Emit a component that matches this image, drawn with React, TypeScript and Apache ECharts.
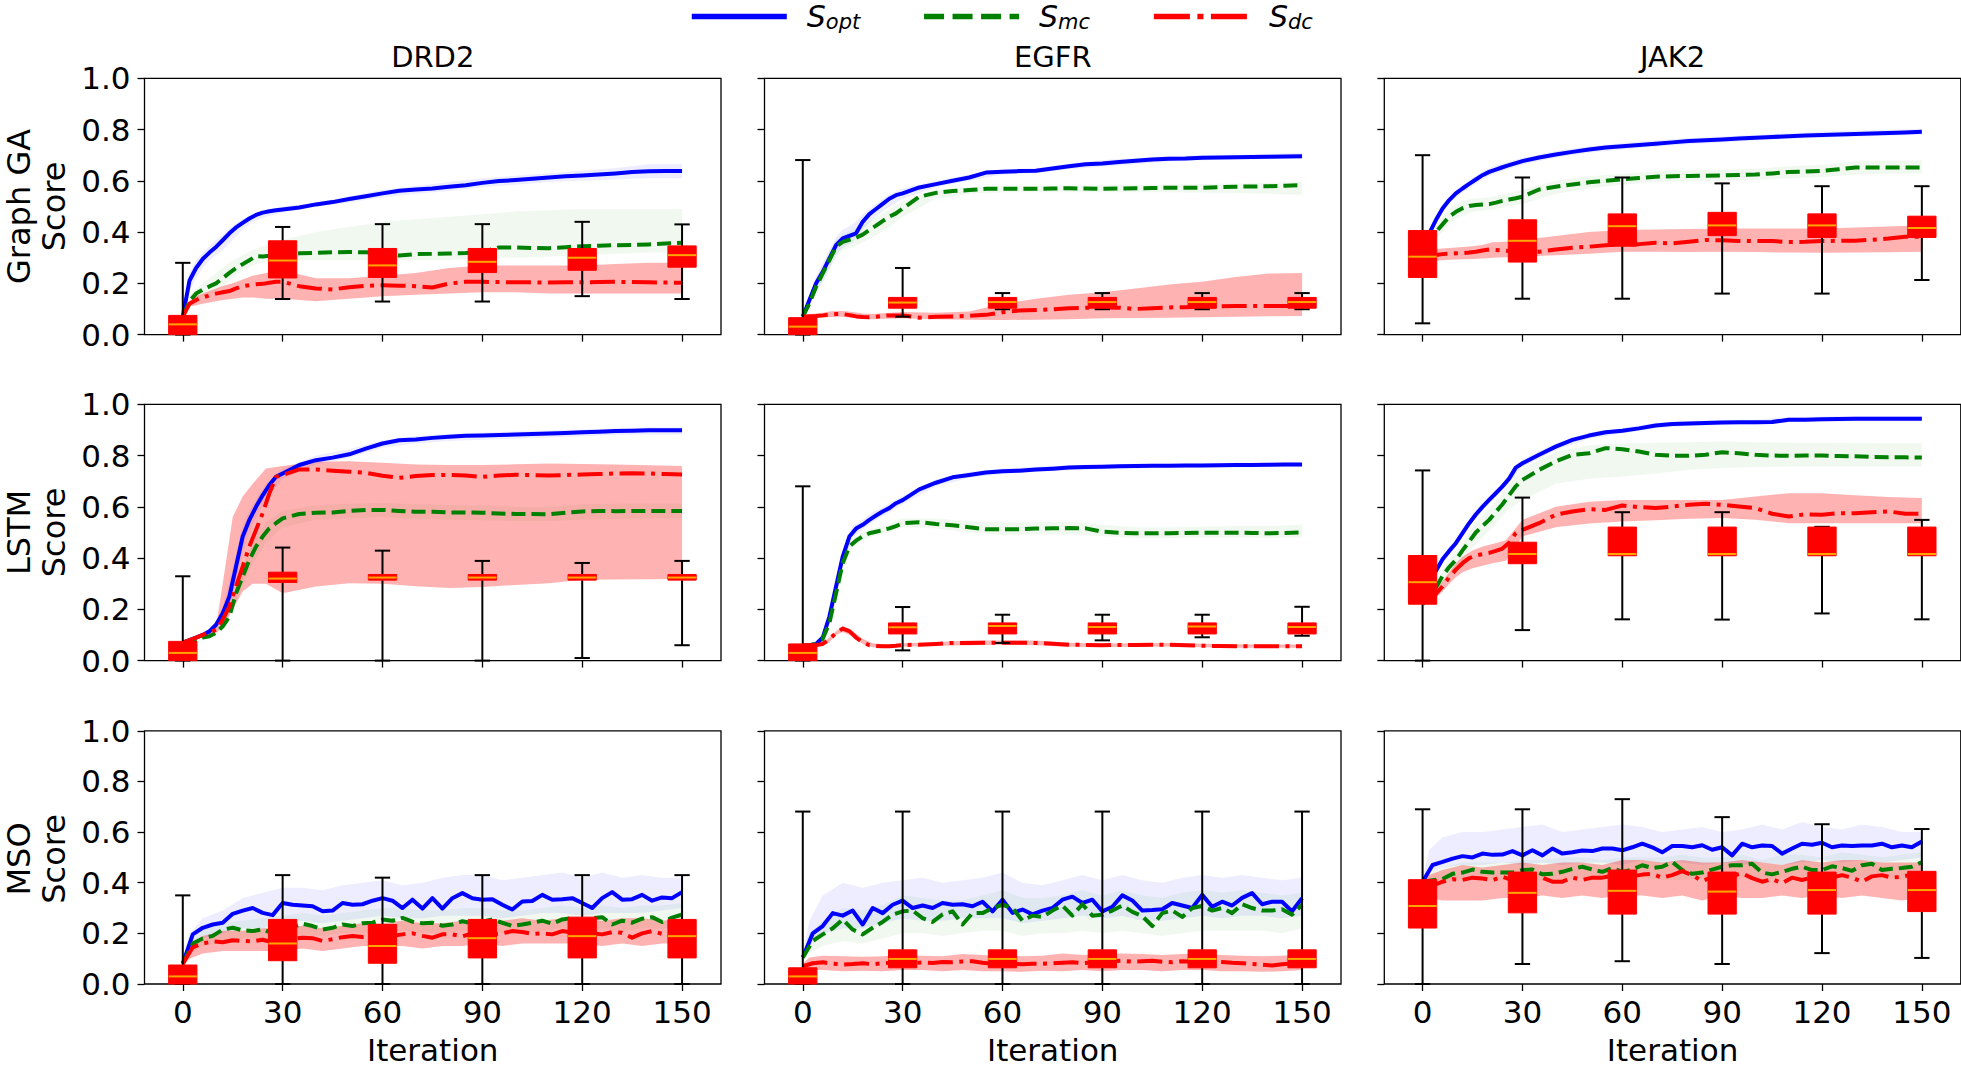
import React, { useEffect, useRef } from "react";
import * as echarts from "echarts";

const FONT = "DejaVu Sans";

// ---- x grids ----
const XS = [0, 2, 4, 6, 8, 10, 12, 14, 16, 18, 20, 22, 24, 26, 28, 30, 35, 40, 45, 50, 55, 60, 65, 70, 75, 80, 85, 90, 95, 100, 105, 110, 115, 120, 125, 130, 135, 140, 145, 150];
const XB = [0, 2, 4, 6, 8, 10, 12, 15, 18, 21, 25, 30, 40, 50, 60, 70, 80, 90, 100, 110, 120, 130, 140, 150];
const XM = [0, 3, 6, 9, 12, 15, 18, 21, 24, 27, 30, 33, 36, 39, 42, 45, 48, 51, 54, 57, 60, 63, 66, 69, 72, 75, 78, 81, 84, 87, 90, 93, 96, 99, 102, 105, 108, 111, 114, 117, 120, 123, 126, 129, 132, 135, 138, 141, 144, 147, 150];
const XBM = [0, 2, 6, 12, 18, 24, 30, 36, 42, 48, 54, 60, 66, 72, 78, 84, 90, 96, 102, 108, 114, 120, 126, 132, 138, 144, 150];
const BOX_X = [0, 30, 60, 90, 120, 150];
const X_TICKS = [0, 30, 60, 90, 120, 150];

const ROW_NAMES = ["Graph GA\nScore", "LSTM\nScore", "MSO\nScore"];
const COL_NAMES = ["DRD2", "EGFR", "JAK2"];
const SERIES_NAMES = ["S_opt", "S_mc", "S_dc"];
const SUBS: Record<string, string> = { S_opt: "opt", S_mc: "mc", S_dc: "dc" };

// ---- Graph GA / DRD2 ----
const GA_DRD2_OPT = [0.07, 0.21, 0.26, 0.295, 0.32, 0.342, 0.368, 0.395, 0.418, 0.436, 0.453, 0.467, 0.476, 0.481, 0.485, 0.488, 0.496, 0.508, 0.517, 0.529, 0.54, 0.551, 0.561, 0.566, 0.57, 0.577, 0.583, 0.592, 0.599, 0.603, 0.608, 0.613, 0.618, 0.621, 0.625, 0.629, 0.634, 0.637, 0.638, 0.638];
const GA_DRD2_MC = [0.07, 0.13, 0.16, 0.175, 0.188, 0.2, 0.22, 0.241, 0.259, 0.275, 0.29, 0.306, 0.305, 0.308, 0.312, 0.314, 0.317, 0.319, 0.321, 0.322, 0.321, 0.319, 0.309, 0.314, 0.315, 0.316, 0.318, 0.323, 0.34, 0.34, 0.338, 0.337, 0.341, 0.345, 0.347, 0.349, 0.35, 0.352, 0.355, 0.358];
const GA_DRD2_DC = [0.07, 0.12, 0.135, 0.145, 0.153, 0.16, 0.165, 0.17, 0.18, 0.189, 0.193, 0.196, 0.198, 0.202, 0.206, 0.206, 0.189, 0.18, 0.176, 0.185, 0.19, 0.193, 0.191, 0.189, 0.184, 0.199, 0.206, 0.206, 0.205, 0.204, 0.204, 0.203, 0.204, 0.204, 0.205, 0.206, 0.205, 0.204, 0.203, 0.202];
const GA_DRD2_OPT_LO = [0.06, 0.17, 0.22, 0.26, 0.29, 0.31, 0.33, 0.37, 0.41, 0.44, 0.46, 0.475, 0.5, 0.515, 0.535, 0.55, 0.56, 0.575, 0.585, 0.595, 0.6, 0.605, 0.61, 0.61];
const GA_DRD2_OPT_HI = [0.08, 0.24, 0.29, 0.32, 0.345, 0.37, 0.39, 0.425, 0.45, 0.47, 0.485, 0.5, 0.515, 0.54, 0.565, 0.58, 0.595, 0.61, 0.62, 0.63, 0.64, 0.65, 0.665, 0.665];
const GA_DRD2_MC_LO = [0.065, 0.12, 0.14, 0.15, 0.16, 0.17, 0.19, 0.22, 0.25, 0.27, 0.285, 0.29, 0.29, 0.29, 0.29, 0.29, 0.29, 0.3, 0.3, 0.305, 0.31, 0.315, 0.32, 0.32];
const GA_DRD2_MC_HI = [0.075, 0.15, 0.18, 0.2, 0.22, 0.24, 0.26, 0.29, 0.31, 0.33, 0.35, 0.37, 0.4, 0.42, 0.44, 0.45, 0.46, 0.47, 0.48, 0.485, 0.49, 0.49, 0.49, 0.49];
const GA_DRD2_DC_LO = [0.065, 0.11, 0.115, 0.12, 0.125, 0.13, 0.135, 0.14, 0.145, 0.145, 0.14, 0.14, 0.13, 0.14, 0.15, 0.155, 0.16, 0.165, 0.165, 0.16, 0.16, 0.16, 0.16, 0.16];
const GA_DRD2_DC_HI = [0.075, 0.13, 0.15, 0.16, 0.17, 0.18, 0.19, 0.2, 0.215, 0.23, 0.24, 0.25, 0.22, 0.22, 0.23, 0.24, 0.26, 0.27, 0.27, 0.27, 0.27, 0.275, 0.28, 0.28];
const GA_DRD2_BOX = [[0, 0, 0.04, 0.075, 0.28], [0.139, 0.221, 0.289, 0.366, 0.42], [0.129, 0.223, 0.27, 0.336, 0.431], [0.129, 0.242, 0.284, 0.336, 0.431], [0.15, 0.251, 0.3, 0.336, 0.44], [0.139, 0.263, 0.31, 0.346, 0.43]];

// ---- Graph GA / EGFR ----
const GA_EGFR_OPT = [0.07, 0.135, 0.2, 0.245, 0.297, 0.349, 0.375, 0.385, 0.395, 0.44, 0.47, 0.49, 0.51, 0.53, 0.544, 0.551, 0.574, 0.587, 0.6, 0.613, 0.632, 0.635, 0.638, 0.639, 0.648, 0.657, 0.665, 0.668, 0.673, 0.678, 0.683, 0.686, 0.687, 0.69, 0.691, 0.692, 0.693, 0.694, 0.695, 0.696];
const GA_EGFR_MC = [0.07, 0.122, 0.187, 0.239, 0.291, 0.343, 0.362, 0.37, 0.378, 0.39, 0.408, 0.425, 0.443, 0.46, 0.473, 0.492, 0.538, 0.553, 0.56, 0.564, 0.569, 0.569, 0.569, 0.569, 0.57, 0.571, 0.57, 0.569, 0.57, 0.571, 0.572, 0.573, 0.573, 0.573, 0.575, 0.577, 0.578, 0.579, 0.581, 0.583];
const GA_EGFR_DC = [0.07, 0.072, 0.073, 0.075, 0.078, 0.08, 0.08, 0.076, 0.071, 0.069, 0.068, 0.07, 0.073, 0.075, 0.075, 0.075, 0.066, 0.07, 0.071, 0.073, 0.077, 0.087, 0.094, 0.096, 0.099, 0.103, 0.105, 0.106, 0.105, 0.1, 0.103, 0.106, 0.107, 0.109, 0.11, 0.112, 0.112, 0.112, 0.112, 0.112];
const GA_EGFR_OPT_LO = [0.065, 0.12, 0.17, 0.21, 0.26, 0.31, 0.34, 0.36, 0.41, 0.45, 0.49, 0.53, 0.575, 0.6, 0.625, 0.63, 0.645, 0.655, 0.665, 0.675, 0.68, 0.682, 0.684, 0.686];
const GA_EGFR_OPT_HI = [0.075, 0.15, 0.23, 0.28, 0.33, 0.38, 0.41, 0.43, 0.47, 0.5, 0.54, 0.57, 0.6, 0.625, 0.645, 0.65, 0.668, 0.68, 0.69, 0.697, 0.7, 0.702, 0.705, 0.71];
const GA_EGFR_MC_LO = [0.065, 0.11, 0.16, 0.2, 0.25, 0.3, 0.33, 0.34, 0.36, 0.38, 0.41, 0.46, 0.53, 0.55, 0.555, 0.555, 0.555, 0.555, 0.555, 0.555, 0.553, 0.552, 0.55, 0.545];
const GA_EGFR_MC_HI = [0.075, 0.135, 0.21, 0.27, 0.32, 0.37, 0.39, 0.41, 0.43, 0.45, 0.48, 0.52, 0.565, 0.575, 0.58, 0.58, 0.582, 0.583, 0.585, 0.586, 0.588, 0.59, 0.592, 0.595];
const GA_EGFR_DC_LO = [0.065, 0.065, 0.065, 0.066, 0.068, 0.07, 0.07, 0.066, 0.062, 0.06, 0.062, 0.064, 0.06, 0.058, 0.057, 0.058, 0.06, 0.064, 0.065, 0.066, 0.068, 0.07, 0.072, 0.073];
const GA_EGFR_DC_HI = [0.075, 0.08, 0.082, 0.085, 0.09, 0.092, 0.092, 0.088, 0.082, 0.08, 0.084, 0.088, 0.085, 0.09, 0.12, 0.14, 0.155, 0.165, 0.18, 0.195, 0.206, 0.225, 0.238, 0.24];
const GA_EGFR_BOX = [[0, 0, 0.031, 0.066, 0.681], [0.07, 0.103, 0.125, 0.145, 0.26], [0.099, 0.103, 0.127, 0.145, 0.162], [0.099, 0.103, 0.127, 0.145, 0.162], [0.099, 0.103, 0.127, 0.145, 0.162], [0.099, 0.103, 0.127, 0.145, 0.162]];

// ---- Graph GA / JAK2 ----
const GA_JAK2_OPT = [0.349, 0.395, 0.447, 0.492, 0.525, 0.551, 0.57, 0.588, 0.605, 0.622, 0.635, 0.644, 0.653, 0.661, 0.669, 0.677, 0.691, 0.703, 0.713, 0.722, 0.73, 0.735, 0.74, 0.745, 0.75, 0.755, 0.758, 0.761, 0.765, 0.768, 0.771, 0.774, 0.777, 0.779, 0.781, 0.783, 0.785, 0.787, 0.789, 0.791];
const GA_JAK2_MC = [0.36, 0.375, 0.4, 0.43, 0.46, 0.479, 0.493, 0.502, 0.506, 0.508, 0.509, 0.515, 0.522, 0.527, 0.532, 0.538, 0.566, 0.577, 0.586, 0.594, 0.6, 0.606, 0.611, 0.616, 0.618, 0.619, 0.62, 0.621, 0.623, 0.625, 0.629, 0.634, 0.636, 0.639, 0.645, 0.652, 0.652, 0.652, 0.652, 0.652];
const GA_JAK2_DC = [0.304, 0.308, 0.311, 0.314, 0.316, 0.317, 0.318, 0.32, 0.323, 0.328, 0.332, 0.33, 0.328, 0.326, 0.323, 0.321, 0.323, 0.332, 0.339, 0.343, 0.349, 0.352, 0.353, 0.358, 0.356, 0.362, 0.369, 0.368, 0.365, 0.365, 0.365, 0.361, 0.362, 0.365, 0.366, 0.366, 0.37, 0.375, 0.382, 0.382];
const GA_JAK2_OPT_LO = [0.335, 0.38, 0.43, 0.475, 0.51, 0.535, 0.555, 0.58, 0.605, 0.625, 0.643, 0.663, 0.69, 0.71, 0.722, 0.733, 0.743, 0.75, 0.757, 0.763, 0.768, 0.772, 0.776, 0.78];
const GA_JAK2_OPT_HI = [0.36, 0.41, 0.46, 0.505, 0.54, 0.565, 0.585, 0.61, 0.637, 0.655, 0.672, 0.69, 0.716, 0.735, 0.748, 0.758, 0.767, 0.773, 0.78, 0.786, 0.791, 0.795, 0.799, 0.803];
const GA_JAK2_MC_LO = [0.345, 0.355, 0.375, 0.4, 0.43, 0.45, 0.465, 0.478, 0.483, 0.487, 0.5, 0.51, 0.55, 0.57, 0.585, 0.595, 0.598, 0.6, 0.603, 0.61, 0.615, 0.625, 0.628, 0.63];
const GA_JAK2_MC_HI = [0.375, 0.395, 0.425, 0.46, 0.49, 0.51, 0.52, 0.53, 0.533, 0.538, 0.55, 0.565, 0.6, 0.618, 0.627, 0.637, 0.64, 0.643, 0.647, 0.657, 0.662, 0.675, 0.678, 0.68];
const GA_JAK2_DC_LO = [0.28, 0.285, 0.288, 0.29, 0.292, 0.293, 0.294, 0.295, 0.297, 0.3, 0.302, 0.304, 0.31, 0.315, 0.323, 0.323, 0.322, 0.323, 0.322, 0.32, 0.319, 0.32, 0.321, 0.323];
const GA_JAK2_DC_HI = [0.33, 0.332, 0.334, 0.336, 0.338, 0.34, 0.342, 0.345, 0.35, 0.36, 0.362, 0.369, 0.385, 0.4, 0.408, 0.41, 0.412, 0.414, 0.414, 0.414, 0.414, 0.418, 0.422, 0.427];
const GA_JAK2_BOX = [[0.044, 0.223, 0.304, 0.406, 0.7], [0.14, 0.283, 0.366, 0.448, 0.613], [0.14, 0.345, 0.423, 0.471, 0.613], [0.16, 0.386, 0.426, 0.477, 0.59], [0.16, 0.379, 0.426, 0.471, 0.579], [0.213, 0.379, 0.416, 0.462, 0.579]];

// ---- LSTM / DRD2 ----
const LSTM_DRD2_OPT = [0.07, 0.08, 0.09, 0.1, 0.114, 0.14, 0.185, 0.25, 0.367, 0.484, 0.549, 0.6, 0.645, 0.685, 0.717, 0.73, 0.763, 0.782, 0.792, 0.805, 0.827, 0.847, 0.86, 0.863, 0.869, 0.873, 0.877, 0.878, 0.88, 0.882, 0.884, 0.886, 0.888, 0.891, 0.893, 0.896, 0.897, 0.899, 0.899, 0.899];
const LSTM_DRD2_MC = [0.07, 0.075, 0.08, 0.09, 0.095, 0.108, 0.134, 0.172, 0.263, 0.328, 0.393, 0.445, 0.484, 0.516, 0.536, 0.555, 0.572, 0.577, 0.578, 0.584, 0.588, 0.588, 0.584, 0.581, 0.581, 0.578, 0.578, 0.577, 0.574, 0.572, 0.572, 0.571, 0.577, 0.582, 0.584, 0.583, 0.584, 0.584, 0.584, 0.584];
const LSTM_DRD2_DC = [0.07, 0.08, 0.09, 0.1, 0.11, 0.12, 0.16, 0.211, 0.289, 0.367, 0.445, 0.51, 0.575, 0.652, 0.717, 0.724, 0.746, 0.746, 0.741, 0.737, 0.733, 0.721, 0.713, 0.72, 0.724, 0.724, 0.722, 0.717, 0.722, 0.725, 0.724, 0.722, 0.724, 0.726, 0.728, 0.73, 0.731, 0.73, 0.728, 0.726];
const LSTM_DRD2_OPT_LO = [0.065, 0.075, 0.085, 0.095, 0.105, 0.125, 0.16, 0.25, 0.42, 0.53, 0.63, 0.71, 0.765, 0.79, 0.83, 0.848, 0.857, 0.862, 0.866, 0.87, 0.875, 0.88, 0.882, 0.882];
const LSTM_DRD2_OPT_HI = [0.075, 0.085, 0.095, 0.105, 0.122, 0.155, 0.21, 0.36, 0.53, 0.61, 0.69, 0.75, 0.8, 0.825, 0.86, 0.876, 0.885, 0.89, 0.894, 0.898, 0.903, 0.907, 0.91, 0.91];
const LSTM_DRD2_MC_LO = [0.065, 0.07, 0.075, 0.085, 0.09, 0.1, 0.12, 0.19, 0.29, 0.38, 0.46, 0.52, 0.55, 0.555, 0.56, 0.553, 0.55, 0.548, 0.545, 0.545, 0.55, 0.552, 0.554, 0.555];
const LSTM_DRD2_MC_HI = [0.075, 0.08, 0.085, 0.095, 0.1, 0.116, 0.15, 0.25, 0.365, 0.46, 0.54, 0.585, 0.605, 0.612, 0.615, 0.61, 0.607, 0.605, 0.6, 0.6, 0.61, 0.612, 0.613, 0.613];
const LSTM_DRD2_DC_LO = [0.065, 0.075, 0.085, 0.095, 0.1, 0.11, 0.13, 0.2, 0.27, 0.3, 0.3, 0.263, 0.289, 0.302, 0.3, 0.29, 0.283, 0.287, 0.295, 0.302, 0.315, 0.316, 0.317, 0.318];
const LSTM_DRD2_DC_HI = [0.075, 0.085, 0.095, 0.105, 0.12, 0.135, 0.3, 0.56, 0.64, 0.69, 0.75, 0.759, 0.776, 0.778, 0.772, 0.765, 0.763, 0.763, 0.766, 0.769, 0.767, 0.765, 0.762, 0.759];
const LSTM_DRD2_BOX = [[0, 0, 0.03, 0.075, 0.329], [0, 0.305, 0.32, 0.345, 0.441], [0, 0.314, 0.324, 0.336, 0.429], [0, 0.314, 0.324, 0.336, 0.389], [0.01, 0.314, 0.324, 0.336, 0.381], [0.06, 0.314, 0.324, 0.336, 0.389]];

// ---- LSTM / EGFR ----
const LSTM_EGFR_OPT = [0.058, 0.06, 0.065, 0.09, 0.172, 0.289, 0.406, 0.484, 0.515, 0.53, 0.549, 0.566, 0.582, 0.595, 0.614, 0.626, 0.668, 0.694, 0.715, 0.724, 0.734, 0.739, 0.741, 0.746, 0.749, 0.753, 0.755, 0.756, 0.758, 0.759, 0.76, 0.76, 0.761, 0.761, 0.762, 0.763, 0.763, 0.764, 0.765, 0.765];
const LSTM_EGFR_MC = [0.058, 0.06, 0.065, 0.085, 0.147, 0.263, 0.38, 0.445, 0.468, 0.485, 0.497, 0.503, 0.509, 0.516, 0.525, 0.536, 0.54, 0.533, 0.528, 0.52, 0.512, 0.512, 0.512, 0.515, 0.516, 0.517, 0.516, 0.503, 0.499, 0.497, 0.497, 0.497, 0.498, 0.499, 0.499, 0.499, 0.498, 0.497, 0.498, 0.5];
const LSTM_EGFR_DC = [0.058, 0.06, 0.061, 0.065, 0.084, 0.108, 0.125, 0.115, 0.09, 0.072, 0.06, 0.057, 0.056, 0.056, 0.058, 0.061, 0.062, 0.065, 0.069, 0.069, 0.07, 0.07, 0.07, 0.069, 0.066, 0.062, 0.061, 0.06, 0.061, 0.061, 0.062, 0.062, 0.06, 0.058, 0.057, 0.056, 0.056, 0.056, 0.056, 0.056];
const LSTM_EGFR_OPT_LO = [0.052, 0.054, 0.058, 0.08, 0.15, 0.26, 0.38, 0.48, 0.51, 0.54, 0.57, 0.61, 0.68, 0.712, 0.728, 0.736, 0.743, 0.747, 0.75, 0.751, 0.752, 0.754, 0.755, 0.756];
const LSTM_EGFR_OPT_HI = [0.064, 0.066, 0.072, 0.1, 0.19, 0.31, 0.43, 0.525, 0.55, 0.58, 0.605, 0.642, 0.708, 0.736, 0.75, 0.756, 0.763, 0.765, 0.768, 0.769, 0.77, 0.772, 0.773, 0.774];
const LSTM_EGFR_MC_LO = [0.052, 0.054, 0.058, 0.075, 0.13, 0.24, 0.36, 0.44, 0.47, 0.485, 0.497, 0.52, 0.515, 0.5, 0.49, 0.492, 0.493, 0.485, 0.478, 0.478, 0.48, 0.48, 0.478, 0.48];
const LSTM_EGFR_MC_HI = [0.064, 0.066, 0.072, 0.095, 0.165, 0.285, 0.4, 0.475, 0.5, 0.515, 0.528, 0.555, 0.553, 0.545, 0.54, 0.54, 0.542, 0.53, 0.52, 0.52, 0.522, 0.525, 0.525, 0.53];
const LSTM_EGFR_DC_LO = [0.052, 0.054, 0.056, 0.058, 0.072, 0.1, 0.112, 0.095, 0.065, 0.052, 0.05, 0.054, 0.058, 0.06, 0.062, 0.06, 0.054, 0.053, 0.054, 0.055, 0.052, 0.05, 0.05, 0.05];
const LSTM_EGFR_DC_HI = [0.064, 0.066, 0.068, 0.072, 0.09, 0.115, 0.135, 0.115, 0.085, 0.068, 0.063, 0.068, 0.072, 0.078, 0.078, 0.078, 0.07, 0.067, 0.068, 0.069, 0.066, 0.064, 0.063, 0.063];
const LSTM_EGFR_BOX = [[0, 0, 0.03, 0.065, 0.68], [0.04, 0.104, 0.13, 0.147, 0.209], [0.069, 0.104, 0.135, 0.147, 0.179], [0.079, 0.104, 0.131, 0.147, 0.179], [0.091, 0.104, 0.133, 0.147, 0.179], [0.097, 0.104, 0.131, 0.147, 0.21]];

// ---- LSTM / JAK2 ----
const LSTM_JAK2_OPT = [0.28, 0.31, 0.35, 0.395, 0.428, 0.458, 0.497, 0.536, 0.57, 0.6, 0.627, 0.653, 0.68, 0.71, 0.753, 0.77, 0.803, 0.835, 0.861, 0.878, 0.891, 0.897, 0.906, 0.917, 0.923, 0.925, 0.927, 0.929, 0.93, 0.93, 0.931, 0.94, 0.94, 0.942, 0.943, 0.944, 0.944, 0.944, 0.944, 0.944];
const LSTM_JAK2_MC = [0.22, 0.25, 0.285, 0.33, 0.365, 0.393, 0.43, 0.465, 0.5, 0.525, 0.549, 0.58, 0.61, 0.645, 0.68, 0.705, 0.744, 0.777, 0.803, 0.809, 0.829, 0.825, 0.816, 0.803, 0.799, 0.799, 0.803, 0.813, 0.809, 0.803, 0.8, 0.799, 0.8, 0.8, 0.798, 0.797, 0.795, 0.793, 0.793, 0.792];
const LSTM_JAK2_DC = [0.235, 0.245, 0.26, 0.29, 0.325, 0.355, 0.38, 0.4, 0.41, 0.415, 0.42, 0.428, 0.437, 0.46, 0.497, 0.51, 0.536, 0.569, 0.582, 0.591, 0.588, 0.605, 0.599, 0.595, 0.601, 0.608, 0.612, 0.608, 0.601, 0.595, 0.573, 0.562, 0.571, 0.569, 0.575, 0.575, 0.579, 0.582, 0.573, 0.573];
const LSTM_JAK2_OPT_LO = [0.265, 0.295, 0.335, 0.38, 0.413, 0.443, 0.482, 0.54, 0.585, 0.625, 0.677, 0.755, 0.822, 0.866, 0.886, 0.906, 0.915, 0.919, 0.92, 0.93, 0.932, 0.934, 0.934, 0.934];
const LSTM_JAK2_OPT_HI = [0.295, 0.325, 0.365, 0.41, 0.443, 0.473, 0.512, 0.571, 0.615, 0.655, 0.707, 0.785, 0.848, 0.89, 0.908, 0.928, 0.935, 0.939, 0.94, 0.95, 0.952, 0.954, 0.954, 0.954];
const LSTM_JAK2_MC_LO = [0.21, 0.235, 0.265, 0.3, 0.33, 0.36, 0.39, 0.44, 0.48, 0.52, 0.58, 0.627, 0.69, 0.71, 0.718, 0.73, 0.745, 0.751, 0.755, 0.757, 0.757, 0.757, 0.757, 0.757];
const LSTM_JAK2_MC_HI = [0.23, 0.265, 0.3, 0.35, 0.39, 0.42, 0.46, 0.52, 0.565, 0.605, 0.67, 0.75, 0.815, 0.84, 0.848, 0.85, 0.852, 0.855, 0.852, 0.85, 0.85, 0.849, 0.848, 0.848];
const LSTM_JAK2_DC_LO = [0.225, 0.235, 0.245, 0.27, 0.3, 0.325, 0.345, 0.36, 0.37, 0.38, 0.39, 0.484, 0.52, 0.535, 0.543, 0.548, 0.553, 0.556, 0.55, 0.536, 0.536, 0.536, 0.536, 0.536];
const LSTM_JAK2_DC_HI = [0.245, 0.26, 0.28, 0.31, 0.345, 0.38, 0.405, 0.43, 0.445, 0.455, 0.47, 0.549, 0.6, 0.62, 0.627, 0.627, 0.627, 0.627, 0.64, 0.653, 0.653, 0.645, 0.638, 0.634];
const LSTM_JAK2_BOX = [[0, 0.22, 0.306, 0.41, 0.742], [0.119, 0.378, 0.416, 0.462, 0.636], [0.161, 0.409, 0.416, 0.521, 0.579], [0.16, 0.409, 0.416, 0.521, 0.579], [0.184, 0.409, 0.416, 0.521, 0.522], [0.161, 0.409, 0.416, 0.521, 0.549]];

// ---- MSO / DRD2 ----
const MSO_DRD2_OPT = [0.08, 0.196, 0.222, 0.235, 0.242, 0.277, 0.29, 0.3, 0.281, 0.272, 0.32, 0.313, 0.31, 0.307, 0.287, 0.29, 0.32, 0.313, 0.315, 0.329, 0.339, 0.329, 0.3, 0.333, 0.298, 0.339, 0.298, 0.339, 0.359, 0.339, 0.333, 0.335, 0.313, 0.294, 0.326, 0.328, 0.352, 0.333, 0.335, 0.339, 0.32, 0.3, 0.339, 0.363, 0.333, 0.335, 0.352, 0.329, 0.342, 0.339, 0.363];
const MSO_DRD2_MC = [0.08, 0.16, 0.18, 0.19, 0.215, 0.222, 0.212, 0.209, 0.216, 0.2, 0.209, 0.225, 0.238, 0.229, 0.215, 0.222, 0.235, 0.229, 0.24, 0.242, 0.255, 0.25, 0.261, 0.246, 0.24, 0.242, 0.23, 0.235, 0.248, 0.24, 0.246, 0.255, 0.242, 0.229, 0.235, 0.242, 0.25, 0.238, 0.255, 0.261, 0.248, 0.26, 0.264, 0.235, 0.25, 0.242, 0.258, 0.264, 0.245, 0.262, 0.274];
const MSO_DRD2_DC = [0.08, 0.145, 0.16, 0.168, 0.165, 0.173, 0.17, 0.168, 0.175, 0.165, 0.17, 0.178, 0.183, 0.181, 0.17, 0.177, 0.185, 0.19, 0.186, 0.19, 0.194, 0.19, 0.196, 0.2, 0.19, 0.183, 0.196, 0.196, 0.188, 0.2, 0.203, 0.196, 0.2, 0.209, 0.205, 0.198, 0.2, 0.196, 0.209, 0.203, 0.207, 0.2, 0.196, 0.205, 0.202, 0.183, 0.2, 0.209, 0.198, 0.2, 0.209];
const MSO_DRD2_OPT_LO = [0.07, 0.14, 0.18, 0.2, 0.22, 0.22, 0.24, 0.25, 0.24, 0.25, 0.26, 0.27, 0.26, 0.26, 0.27, 0.27, 0.27, 0.26, 0.27, 0.28, 0.28, 0.27, 0.28, 0.28, 0.28, 0.29, 0.3];
const MSO_DRD2_OPT_HI = [0.09, 0.2, 0.26, 0.29, 0.34, 0.36, 0.38, 0.38, 0.37, 0.39, 0.4, 0.41, 0.39, 0.4, 0.42, 0.43, 0.43, 0.41, 0.42, 0.43, 0.44, 0.42, 0.44, 0.42, 0.43, 0.42, 0.42];
const MSO_DRD2_MC_LO = [0.07, 0.12, 0.15, 0.17, 0.18, 0.18, 0.18, 0.19, 0.19, 0.2, 0.2, 0.21, 0.21, 0.2, 0.2, 0.21, 0.21, 0.2, 0.2, 0.21, 0.22, 0.21, 0.22, 0.21, 0.22, 0.22, 0.23];
const MSO_DRD2_MC_HI = [0.09, 0.17, 0.21, 0.24, 0.25, 0.26, 0.27, 0.28, 0.27, 0.28, 0.29, 0.3, 0.3, 0.29, 0.29, 0.3, 0.3, 0.29, 0.29, 0.3, 0.31, 0.3, 0.31, 0.3, 0.31, 0.31, 0.32];
const MSO_DRD2_DC_LO = [0.07, 0.1, 0.12, 0.13, 0.13, 0.13, 0.13, 0.14, 0.13, 0.14, 0.15, 0.15, 0.15, 0.14, 0.15, 0.15, 0.16, 0.15, 0.16, 0.16, 0.16, 0.16, 0.15, 0.16, 0.15, 0.16, 0.16];
const MSO_DRD2_DC_HI = [0.09, 0.16, 0.19, 0.21, 0.21, 0.22, 0.22, 0.23, 0.22, 0.23, 0.24, 0.24, 0.25, 0.24, 0.24, 0.25, 0.25, 0.25, 0.26, 0.25, 0.26, 0.26, 0.25, 0.26, 0.26, 0.25, 0.26];
const MSO_DRD2_BOX = [[0, 0, 0.03, 0.075, 0.35], [0, 0.092, 0.16, 0.255, 0.43], [0, 0.082, 0.15, 0.235, 0.42], [0, 0.103, 0.181, 0.255, 0.43], [0, 0.103, 0.189, 0.264, 0.43], [0, 0.103, 0.189, 0.255, 0.43]];

// ---- MSO / EGFR ----
const MSO_EGFR_OPT = [0.105, 0.2, 0.229, 0.28, 0.27, 0.29, 0.235, 0.3, 0.28, 0.313, 0.329, 0.3, 0.31, 0.3, 0.32, 0.313, 0.315, 0.307, 0.325, 0.287, 0.333, 0.281, 0.294, 0.275, 0.29, 0.3, 0.333, 0.345, 0.32, 0.333, 0.287, 0.305, 0.35, 0.33, 0.29, 0.292, 0.295, 0.32, 0.31, 0.3, 0.352, 0.305, 0.325, 0.31, 0.34, 0.359, 0.315, 0.325, 0.325, 0.287, 0.339];
const MSO_EGFR_MC = [0.105, 0.17, 0.196, 0.22, 0.255, 0.215, 0.196, 0.222, 0.245, 0.274, 0.287, 0.29, 0.26, 0.245, 0.275, 0.287, 0.235, 0.28, 0.28, 0.3, 0.313, 0.3, 0.25, 0.27, 0.265, 0.29, 0.31, 0.27, 0.315, 0.27, 0.274, 0.29, 0.31, 0.285, 0.268, 0.229, 0.28, 0.29, 0.265, 0.3, 0.308, 0.29, 0.3, 0.28, 0.315, 0.3, 0.29, 0.29, 0.295, 0.274, 0.313];
const MSO_EGFR_DC = [0.07, 0.082, 0.086, 0.08, 0.077, 0.079, 0.082, 0.078, 0.082, 0.084, 0.086, 0.082, 0.085, 0.083, 0.087, 0.086, 0.089, 0.09, 0.084, 0.08, 0.083, 0.08, 0.078, 0.08, 0.08, 0.082, 0.084, 0.086, 0.082, 0.085, 0.086, 0.09, 0.092, 0.088, 0.09, 0.092, 0.088, 0.086, 0.09, 0.088, 0.09, 0.089, 0.087, 0.084, 0.082, 0.079, 0.076, 0.073, 0.078, 0.082, 0.086];
const MSO_EGFR_OPT_LO = [0.09, 0.15, 0.2, 0.22, 0.22, 0.24, 0.26, 0.25, 0.25, 0.26, 0.26, 0.26, 0.24, 0.25, 0.26, 0.27, 0.26, 0.27, 0.25, 0.25, 0.26, 0.27, 0.26, 0.27, 0.27, 0.26, 0.27];
const MSO_EGFR_OPT_HI = [0.12, 0.25, 0.35, 0.4, 0.38, 0.4, 0.41, 0.42, 0.4, 0.41, 0.42, 0.44, 0.4, 0.39, 0.41, 0.43, 0.41, 0.43, 0.41, 0.4, 0.42, 0.43, 0.42, 0.43, 0.42, 0.41, 0.42];
const MSO_EGFR_MC_LO = [0.09, 0.12, 0.15, 0.17, 0.16, 0.18, 0.2, 0.2, 0.19, 0.2, 0.21, 0.21, 0.19, 0.2, 0.2, 0.21, 0.2, 0.21, 0.2, 0.19, 0.2, 0.21, 0.21, 0.21, 0.21, 0.2, 0.22];
const MSO_EGFR_MC_HI = [0.12, 0.2, 0.25, 0.3, 0.29, 0.31, 0.35, 0.34, 0.33, 0.33, 0.35, 0.37, 0.34, 0.34, 0.35, 0.37, 0.35, 0.37, 0.35, 0.34, 0.36, 0.37, 0.36, 0.37, 0.36, 0.35, 0.36];
const MSO_EGFR_DC_LO = [0.06, 0.055, 0.055, 0.05, 0.052, 0.05, 0.055, 0.055, 0.05, 0.055, 0.05, 0.05, 0.048, 0.052, 0.05, 0.055, 0.05, 0.055, 0.055, 0.05, 0.055, 0.055, 0.05, 0.05, 0.048, 0.05, 0.055];
const MSO_EGFR_DC_HI = [0.08, 0.105, 0.112, 0.11, 0.108, 0.11, 0.115, 0.112, 0.11, 0.118, 0.115, 0.112, 0.11, 0.112, 0.12, 0.115, 0.118, 0.12, 0.118, 0.115, 0.118, 0.12, 0.115, 0.112, 0.11, 0.112, 0.118];
const MSO_EGFR_BOX = [[0, 0, 0.03, 0.064, 0.681], [0, 0.064, 0.099, 0.135, 0.681], [0, 0.064, 0.099, 0.135, 0.681], [0, 0.064, 0.099, 0.135, 0.681], [0, 0.064, 0.099, 0.135, 0.681], [0, 0.064, 0.099, 0.135, 0.681]];

// ---- MSO / JAK2 ----
const MSO_JAK2_OPT = [0.404, 0.47, 0.482, 0.495, 0.505, 0.5, 0.515, 0.51, 0.511, 0.525, 0.508, 0.528, 0.508, 0.535, 0.515, 0.52, 0.527, 0.525, 0.535, 0.535, 0.528, 0.54, 0.554, 0.54, 0.52, 0.545, 0.545, 0.54, 0.548, 0.53, 0.54, 0.508, 0.554, 0.54, 0.547, 0.545, 0.515, 0.535, 0.554, 0.55, 0.558, 0.54, 0.547, 0.545, 0.547, 0.547, 0.554, 0.54, 0.547, 0.54, 0.563];
const MSO_JAK2_MC = [0.404, 0.41, 0.415, 0.435, 0.44, 0.452, 0.443, 0.44, 0.44, 0.44, 0.45, 0.452, 0.433, 0.435, 0.443, 0.455, 0.463, 0.452, 0.443, 0.458, 0.443, 0.452, 0.469, 0.458, 0.463, 0.482, 0.45, 0.435, 0.44, 0.452, 0.463, 0.469, 0.469, 0.475, 0.44, 0.433, 0.443, 0.455, 0.463, 0.45, 0.45, 0.465, 0.458, 0.447, 0.469, 0.475, 0.45, 0.455, 0.458, 0.463, 0.481];
const MSO_JAK2_DC = [0.404, 0.388, 0.404, 0.414, 0.411, 0.42, 0.417, 0.41, 0.424, 0.41, 0.43, 0.42, 0.42, 0.404, 0.404, 0.42, 0.411, 0.42, 0.42, 0.428, 0.424, 0.425, 0.432, 0.435, 0.42, 0.43, 0.446, 0.43, 0.407, 0.422, 0.417, 0.428, 0.437, 0.418, 0.404, 0.414, 0.398, 0.42, 0.411, 0.42, 0.415, 0.42, 0.43, 0.42, 0.404, 0.425, 0.43, 0.42, 0.424, 0.432, 0.437];
const MSO_JAK2_OPT_LO = [0.39, 0.44, 0.46, 0.47, 0.47, 0.48, 0.47, 0.48, 0.47, 0.48, 0.48, 0.47, 0.49, 0.48, 0.48, 0.47, 0.48, 0.47, 0.48, 0.47, 0.48, 0.49, 0.48, 0.49, 0.48, 0.49, 0.5];
const MSO_JAK2_OPT_HI = [0.42, 0.53, 0.58, 0.6, 0.6, 0.61, 0.62, 0.63, 0.6, 0.61, 0.62, 0.63, 0.62, 0.6, 0.61, 0.62, 0.6, 0.61, 0.63, 0.61, 0.64, 0.62, 0.61, 0.63, 0.62, 0.6, 0.6];
const MSO_JAK2_MC_LO = [0.39, 0.39, 0.4, 0.41, 0.41, 0.41, 0.4, 0.41, 0.41, 0.42, 0.41, 0.42, 0.42, 0.41, 0.41, 0.42, 0.41, 0.42, 0.41, 0.42, 0.42, 0.41, 0.42, 0.42, 0.42, 0.41, 0.43];
const MSO_JAK2_MC_HI = [0.42, 0.44, 0.46, 0.48, 0.48, 0.48, 0.49, 0.49, 0.5, 0.5, 0.49, 0.5, 0.5, 0.5, 0.51, 0.5, 0.5, 0.51, 0.49, 0.51, 0.51, 0.5, 0.52, 0.51, 0.5, 0.51, 0.52];
const MSO_JAK2_DC_LO = [0.39, 0.34, 0.33, 0.33, 0.33, 0.34, 0.34, 0.35, 0.34, 0.35, 0.34, 0.35, 0.35, 0.34, 0.35, 0.33, 0.35, 0.34, 0.34, 0.35, 0.34, 0.35, 0.34, 0.35, 0.34, 0.33, 0.34];
const MSO_JAK2_DC_HI = [0.42, 0.43, 0.45, 0.47, 0.46, 0.47, 0.48, 0.47, 0.48, 0.48, 0.47, 0.49, 0.49, 0.48, 0.49, 0.48, 0.48, 0.49, 0.48, 0.47, 0.49, 0.48, 0.49, 0.49, 0.48, 0.48, 0.48];
const MSO_JAK2_BOX = [[0, 0.221, 0.308, 0.412, 0.69], [0.079, 0.281, 0.36, 0.442, 0.69], [0.09, 0.276, 0.368, 0.45, 0.73], [0.079, 0.276, 0.365, 0.442, 0.659], [0.122, 0.276, 0.371, 0.442, 0.631], [0.103, 0.286, 0.371, 0.445, 0.612]];

type Panel = {
  x: number[];
  lines: number[][];
  bx: number[];
  lo: number[][];
  hi: number[][];
  box: number[][];
};

const PANELS: Panel[] = [
  { x: XS, lines: [GA_DRD2_OPT, GA_DRD2_MC, GA_DRD2_DC], bx: XB, lo: [GA_DRD2_OPT_LO, GA_DRD2_MC_LO, GA_DRD2_DC_LO], hi: [GA_DRD2_OPT_HI, GA_DRD2_MC_HI, GA_DRD2_DC_HI], box: GA_DRD2_BOX },
  { x: XS, lines: [GA_EGFR_OPT, GA_EGFR_MC, GA_EGFR_DC], bx: XB, lo: [GA_EGFR_OPT_LO, GA_EGFR_MC_LO, GA_EGFR_DC_LO], hi: [GA_EGFR_OPT_HI, GA_EGFR_MC_HI, GA_EGFR_DC_HI], box: GA_EGFR_BOX },
  { x: XS, lines: [GA_JAK2_OPT, GA_JAK2_MC, GA_JAK2_DC], bx: XB, lo: [GA_JAK2_OPT_LO, GA_JAK2_MC_LO, GA_JAK2_DC_LO], hi: [GA_JAK2_OPT_HI, GA_JAK2_MC_HI, GA_JAK2_DC_HI], box: GA_JAK2_BOX },
  { x: XS, lines: [LSTM_DRD2_OPT, LSTM_DRD2_MC, LSTM_DRD2_DC], bx: XB, lo: [LSTM_DRD2_OPT_LO, LSTM_DRD2_MC_LO, LSTM_DRD2_DC_LO], hi: [LSTM_DRD2_OPT_HI, LSTM_DRD2_MC_HI, LSTM_DRD2_DC_HI], box: LSTM_DRD2_BOX },
  { x: XS, lines: [LSTM_EGFR_OPT, LSTM_EGFR_MC, LSTM_EGFR_DC], bx: XB, lo: [LSTM_EGFR_OPT_LO, LSTM_EGFR_MC_LO, LSTM_EGFR_DC_LO], hi: [LSTM_EGFR_OPT_HI, LSTM_EGFR_MC_HI, LSTM_EGFR_DC_HI], box: LSTM_EGFR_BOX },
  { x: XS, lines: [LSTM_JAK2_OPT, LSTM_JAK2_MC, LSTM_JAK2_DC], bx: XB, lo: [LSTM_JAK2_OPT_LO, LSTM_JAK2_MC_LO, LSTM_JAK2_DC_LO], hi: [LSTM_JAK2_OPT_HI, LSTM_JAK2_MC_HI, LSTM_JAK2_DC_HI], box: LSTM_JAK2_BOX },
  { x: XM, lines: [MSO_DRD2_OPT, MSO_DRD2_MC, MSO_DRD2_DC], bx: XBM, lo: [MSO_DRD2_OPT_LO, MSO_DRD2_MC_LO, MSO_DRD2_DC_LO], hi: [MSO_DRD2_OPT_HI, MSO_DRD2_MC_HI, MSO_DRD2_DC_HI], box: MSO_DRD2_BOX },
  { x: XM, lines: [MSO_EGFR_OPT, MSO_EGFR_MC, MSO_EGFR_DC], bx: XBM, lo: [MSO_EGFR_OPT_LO, MSO_EGFR_MC_LO, MSO_EGFR_DC_LO], hi: [MSO_EGFR_OPT_HI, MSO_EGFR_MC_HI, MSO_EGFR_DC_HI], box: MSO_EGFR_BOX },
  { x: XM, lines: [MSO_JAK2_OPT, MSO_JAK2_MC, MSO_JAK2_DC], bx: XBM, lo: [MSO_JAK2_OPT_LO, MSO_JAK2_MC_LO, MSO_JAK2_DC_LO], hi: [MSO_JAK2_OPT_HI, MSO_JAK2_MC_HI, MSO_JAK2_DC_HI], box: MSO_JAK2_BOX },
];

// ---- styling / layout ----
const GRID_LEFT = [144.5, 764.5, 1384.3];
const GRID_W = 576.5;
const GRID_TOP = [78.3, 404.3, 730.8];
const GRID_H = 256.3;
const X_MIN = -11.5;
const X_MAX = 161.7;
const LINE_COLORS = ["#0000ff", "#008000", "#ff0000"];
const LINE_DASH: any[] = ["solid", [14, 6], [25, 6.5, 4, 6.5]];
const LEGEND_DASH: any[] = ["solid", [20, 8.5], [36, 7.5, 6, 7.5]];
const BAND_COLORS = ["rgba(0,0,255,0.07)", "rgba(0,128,0,0.06)", "rgba(255,0,0,0.3)"];
const BOX_HALF = 4.25;
const CAP_HALF = 2.3;

function bandSeries(i: number, xs: number[], lo: number[], hi: number[], color: string) {
  const data = xs.map((x, k) => [x, lo[k], hi[k]]);
  return {
    type: "custom",
    xAxisIndex: i,
    yAxisIndex: i,
    silent: true,
    z: 1,
    data,
    renderItem: (params: any, api: any) => {
      if (params.dataIndex !== 0) return null;
      const pts: number[][] = [];
      for (const d of data) pts.push(api.coord([d[0], d[2]]));
      for (let k = data.length - 1; k >= 0; k--) pts.push(api.coord([data[k][0], data[k][1]]));
      return { type: "polygon", shape: { points: pts }, style: { fill: color, stroke: "none" } };
    },
  };
}

function boxSeries(i: number, box: number[][]) {
  const data = BOX_X.map((x, k) => [x, ...box[k]]);
  return {
    type: "custom",
    xAxisIndex: i,
    yAxisIndex: i,
    silent: true,
    z: 5,
    data,
    renderItem: (params: any, api: any) => {
      const x = api.value(0);
      const pMin = api.coord([x, api.value(1)]);
      const pQ1 = api.coord([x, api.value(2)]);
      const pMd = api.coord([x, api.value(3)]);
      const pQ3 = api.coord([x, api.value(4)]);
      const pMax = api.coord([x, api.value(5)]);
      const left = api.coord([x - BOX_HALF, 0])[0];
      const right = api.coord([x + BOX_HALF, 0])[0];
      const cl = api.coord([x - CAP_HALF, 0])[0];
      const cr = api.coord([x + CAP_HALF, 0])[0];
      const blk = { stroke: "#000", lineWidth: 2 };
      return {
        type: "group",
        children: [
          { type: "line", shape: { x1: pMin[0], y1: pMin[1], x2: pQ1[0], y2: pQ1[1] }, style: blk },
          { type: "line", shape: { x1: pQ3[0], y1: pQ3[1], x2: pMax[0], y2: pMax[1] }, style: blk },
          { type: "line", shape: { x1: cl, y1: pMin[1], x2: cr, y2: pMin[1] }, style: blk },
          { type: "line", shape: { x1: cl, y1: pMax[1], x2: cr, y2: pMax[1] }, style: blk },
          { type: "rect", shape: { x: left, y: pQ3[1], width: right - left, height: pQ1[1] - pQ3[1] }, style: { fill: "#ff0000", stroke: "#ff0000", lineWidth: 1 } },
          { type: "line", shape: { x1: left, y1: pMd[1], x2: right, y2: pMd[1] }, style: { stroke: "#ffa500", lineWidth: 2 } },
        ],
      };
    },
  };
}

function buildOption() {
  const grid: any[] = [];
  const xAxis: any[] = [];
  const yAxis: any[] = [];
  const series: any[] = [];
  const txt = { fontFamily: FONT, color: "#000", fontSize: 31 };

  PANELS.forEach((p, i) => {
    const r = Math.floor(i / 3);
    const c = i % 3;
    grid.push({
      left: GRID_LEFT[c], top: GRID_TOP[r], width: GRID_W, height: GRID_H,
      show: true, borderColor: "#000", borderWidth: 1.3, backgroundColor: "transparent",
    });
    xAxis.push({
      type: "value", gridIndex: i, min: X_MIN, max: X_MAX,
      splitLine: { show: false },
      axisLine: { show: false, onZero: false },
      axisTick: { show: true, length: 7, lineStyle: { color: "#000", width: 1.3 }, customValues: X_TICKS },
      axisLabel: { show: r === 2, customValues: X_TICKS, margin: 12, ...txt },
      name: r === 2 ? "Iteration" : "",
      nameLocation: "middle", nameGap: 50,
      nameTextStyle: { ...txt },
    });
    yAxis.push({
      type: "value", gridIndex: i, min: 0, max: 1, interval: 0.2,
      splitLine: { show: false },
      axisLine: { show: false, onZero: false },
      axisTick: { show: true, length: 7, lineStyle: { color: "#000", width: 1.3 } },
      axisLabel: { show: c === 0, margin: 14, formatter: (v: number) => v.toFixed(1), ...txt },
    });
    for (let j = 0; j < 3; j++) series.push(bandSeries(i, p.bx, p.lo[j], p.hi[j], BAND_COLORS[j]));
    for (let j = 0; j < 3; j++) {
      series.push({
        type: "line", name: SERIES_NAMES[j], xAxisIndex: i, yAxisIndex: i,
        data: p.x.map((x, k) => [x, p.lines[j][k]]),
        symbol: "none", showSymbol: false, silent: true, z: 3,
        lineStyle: { color: LINE_COLORS[j], width: 4, type: LINE_DASH[j], cap: "butt", join: "round" },
        itemStyle: { color: LINE_COLORS[j] },
      });
    }
    series.push(boxSeries(i, p.box));
  });

  const graphic: any[] = [];
  COL_NAMES.forEach((t, c) => {
    graphic.push({
      type: "text", x: GRID_LEFT[c] + GRID_W / 2, y: 57, silent: true,
      style: { text: t, fontSize: 29, fontFamily: FONT, fill: "#000", align: "center", verticalAlign: "middle", textAlign: "center", textVerticalAlign: "middle" },
    });
  });
  ROW_NAMES.forEach((t, r) => {
    graphic.push({
      type: "text", x: 36, y: GRID_TOP[r] + GRID_H / 2, rotation: Math.PI / 2, silent: true,
      style: { text: t, fontSize: 32, lineHeight: 35, fontFamily: FONT, fill: "#000", align: "center", verticalAlign: "middle", textAlign: "center", textVerticalAlign: "middle" },
    });
  });

  return {
    animation: false,
    backgroundColor: "#fff",
    grid, xAxis, yAxis, series, graphic,
    legend: {
      left: 689, top: 1, padding: 0,
      itemWidth: 95, itemHeight: 14, itemGap: 61,
      selectedMode: false,
      data: SERIES_NAMES.map((n, j) => ({
        name: n,
        lineStyle: { color: LINE_COLORS[j], width: 5.6, type: LEGEND_DASH[j], cap: "butt" },
        itemStyle: { color: LINE_COLORS[j], opacity: 0, borderWidth: 0 },
      })),
      formatter: (name: string) => `{s|S}{sub|${SUBS[name]}}`,
      textStyle: {
        rich: {
          s: { fontSize: 30, fontStyle: "italic", fontFamily: FONT, color: "#000", lineHeight: 28, padding: [0, 0, 0, 15] },
          sub: { fontSize: 21, fontStyle: "italic", fontFamily: FONT, color: "#000", lineHeight: 22, padding: [10, 0, 0, 0] },
        },
      },
    },
  };
}

export default function App() {
  const ref = useRef<HTMLDivElement>(null);
  useEffect(() => {
    if (!ref.current) return;
    const chart = echarts.init(ref.current, null, { renderer: "svg" });
    chart.setOption(buildOption() as any);
    return () => chart.dispose();
  }, []);
  return <div ref={ref} style={{ position: "fixed", left: 0, top: 0, width: 1961, height: 1066 }} />;
}
